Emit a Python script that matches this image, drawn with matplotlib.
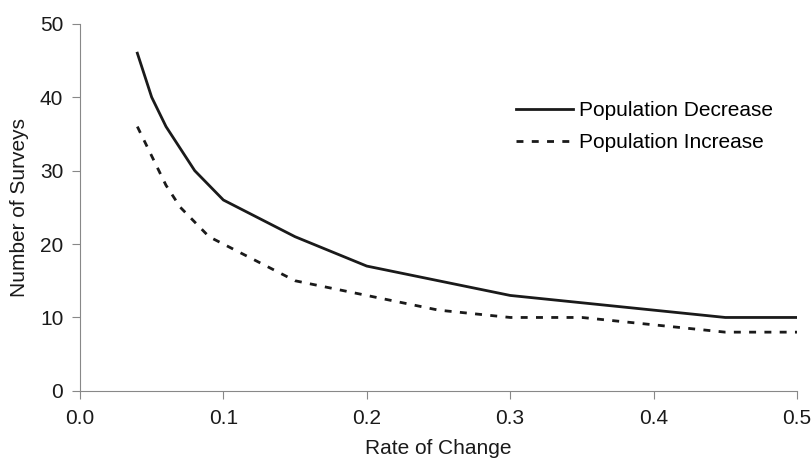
import matplotlib
matplotlib.use("Agg")
import matplotlib.pyplot as plt

plt.rcParams['font.family'] = ['Liberation Sans', 'DejaVu Sans']

rate = [0.04, 0.05, 0.06, 0.07, 0.08, 0.09, 0.10, 0.15, 0.20, 0.25, 0.30, 0.35, 0.40, 0.45, 0.50]
decrease = [46, 40, 36, 33, 30, 28, 26, 21, 17, 15, 13, 12, 11, 10, 10]
increase = [36, 32, 28, 25, 23, 21, 20, 15, 13, 11, 10, 10, 9, 8, 8]

fig = plt.figure(figsize=(8.12, 4.67), dpi=100)
ax = fig.add_axes([0.0985, 0.163, 0.883, 0.786])

ax.plot(rate, decrease, color='#1a1a1a', lw=2.0, label='Population Decrease')
ax.plot(rate, increase, color='#1a1a1a', lw=2.0, ls=(0, (2.5, 3)), label='Population Increase')

ax.set_xlim(0, 0.5)
ax.set_ylim(0, 50)
ax.set_xticks([0, 0.1, 0.2, 0.3, 0.4, 0.5])
ax.set_xticklabels(['0.0', '0.1', '0.2', '0.3', '0.4', '0.5'])
ax.set_yticks([0, 10, 20, 30, 40, 50])
for s in ['top', 'right']:
    ax.spines[s].set_visible(False)
for s in ['left', 'bottom']:
    ax.spines[s].set_color('#888888')
    ax.spines[s].set_linewidth(0.8)
ax.tick_params(axis='both', colors='#888888', labelcolor='#1a1a1a', labelsize=15, length=6, width=0.8)
ax.tick_params(axis='x', pad=7)
ax.tick_params(axis='y', pad=6)
ax.set_xlabel('Rate of Change', fontsize=15, color='#1a1a1a', labelpad=8)
ax.set_ylabel('Number of Surveys', fontsize=15, color='#1a1a1a', labelpad=8)

ax.legend(loc='upper left', bbox_to_anchor=(0.582, 0.84), frameon=False, fontsize=15,
          handlelength=2.75, handletextpad=0.25, labelspacing=0.6)

fig.savefig('out.png', dpi=100)
